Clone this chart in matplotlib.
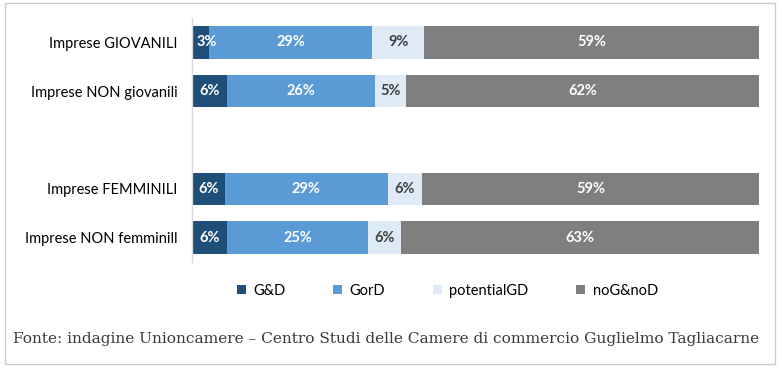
import matplotlib.pyplot as plt
from matplotlib.patches import Rectangle, Patch

# categories (top to bottom), with an empty slot between the two groups
categories = ["Imprese GIOVANILI", "Imprese NON giovanili", "",
              "Imprese FEMMINILI", "Imprese NON femminill"]
series = ["G&D", "GorD", "potentialGD", "noG&noD"]

# shares in % (None = empty slot)
g_and_d = [3.1, 6.3, None, 5.8, 6.2]
g_or_d = [28.7, 26.0, None, 28.8, 24.9]
potential_gd = [9.2, 5.4, None, 6.0, 5.7]
no_g_no_d = [59.0, 62.3, None, 59.4, 63.2]

colors = ["#1f4e79", "#5b9bd5", "#deebf7", "#7f7f7f"]
label_colors = ["white", "white", "#404040", "white"]

fig = plt.figure(figsize=(7.82, 3.75), dpi=100)
ax = fig.add_axes([191.7 / 782, 1 - 262 / 375, (759.3 - 191.7) / 782, (262 - 18) / 375])

font = "Lato"
ypos = list(range(len(categories)))
left = [0.0] * len(categories)
for vals, col, lcol, name in zip([g_and_d, g_or_d, potential_gd, no_g_no_d],
                                 colors, label_colors, series):
    for i, v in enumerate(vals):
        if v is None:
            continue
        ax.barh(ypos[i], v, left=left[i], height=0.66, color=col, linewidth=0)
        # tiny segments: keep the label from spilling past the left edge
        xc = max(left[i] + v / 2, 2.7)
        ax.text(xc, ypos[i], f"{v:.0f}%", ha="center", va="center",
                color=lcol, fontsize=10.5, fontweight="bold", family=font)
        left[i] += v

ax.set_xlim(0, 100)
ax.set_ylim(len(categories) - 0.5, -0.5)
ax.set_yticks(ypos)
ax.set_yticklabels(categories, family=font, fontsize=10.5, color="#000000")
ax.tick_params(axis="y", length=0, pad=10)
ax.set_xticks([])
for s in ["top", "right", "bottom"]:
    ax.spines[s].set_visible(False)
ax.spines["left"].set_color("#d9d9d9")
ax.spines["left"].set_linewidth(1)

handles = [Patch(facecolor=c, edgecolor="none") for c in colors]
leg = fig.legend(handles, series, loc="center", bbox_to_anchor=(0.572, 1 - 291 / 375),
                 ncol=4, frameon=False, handlelength=0.6, handleheight=0.6,
                 handletextpad=0.5, columnspacing=3.3,
                 prop={"family": font, "size": 10.5})

fig.text(13 / 782, 1 - 339 / 375,
         "Fonte: indagine Unioncamere \u2013 Centro Studi delle Camere di commercio Guglielmo Tagliacarne",
         ha="left", va="center", family="DejaVu Serif", fontsize=11.1, color="#3a3a3a")

fig.patches.append(Rectangle((5 / 782, 1 - 364 / 375), 770 / 782, 361 / 375,
                             transform=fig.transFigure, fill=False,
                             edgecolor="#cccccc", linewidth=1))

fig.savefig("out.png", dpi=100)
